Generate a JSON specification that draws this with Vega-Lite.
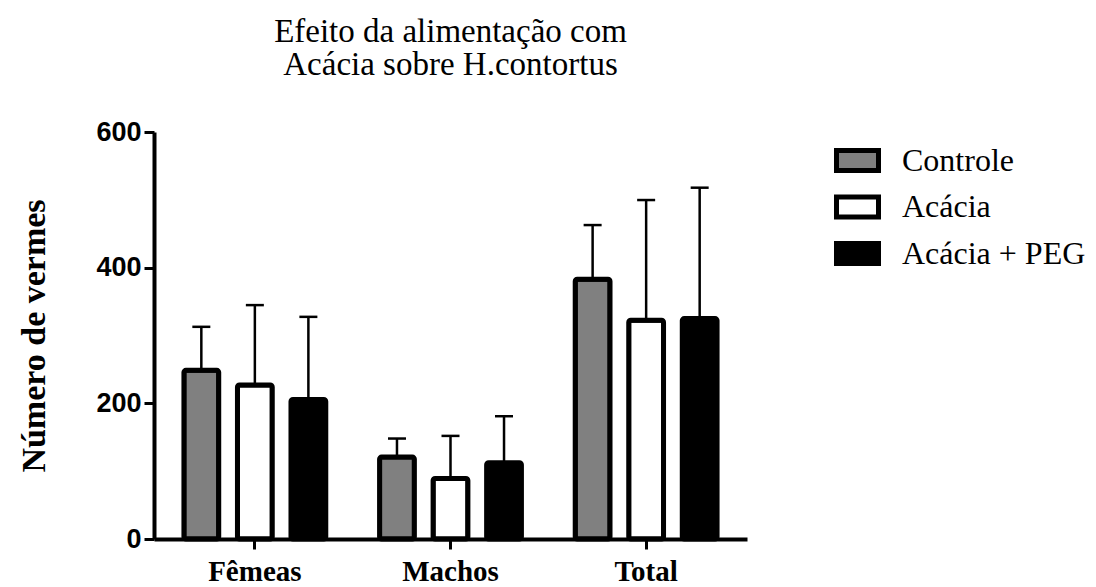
{
  "$schema": "https://vega.github.io/schema/vega-lite/v6.json",
  "width": 593,
  "height": 407,
  "autosize": {"type": "none"},
  "padding": {"left": 154, "top": 132, "right": 349, "bottom": 48},
  "background": "white",
  "title": {
    "text": ["Efeito da alimentação com", "Acácia sobre H.contortus"],
    "font": "Liberation Serif",
    "fontSize": 33,
    "fontWeight": "normal",
    "color": "black",
    "anchor": "middle",
    "lineHeight": 33,
    "offset": 36
  },
  "data": {
    "values": [
      {"grupo": "Fêmeas", "tratamento": "Controle", "media": 248.6, "superior": 312.8},
      {"grupo": "Fêmeas", "tratamento": "Acácia", "media": 227.0, "superior": 344.8},
      {"grupo": "Fêmeas", "tratamento": "Acácia + PEG", "media": 205.8, "superior": 327.5},
      {"grupo": "Machos", "tratamento": "Controle", "media": 120.8, "superior": 148.1},
      {"grupo": "Machos", "tratamento": "Acácia", "media": 89.3, "superior": 152.0},
      {"grupo": "Machos", "tratamento": "Acácia + PEG", "media": 112.4, "superior": 181.0},
      {"grupo": "Total", "tratamento": "Controle", "media": 382.9, "superior": 462.8},
      {"grupo": "Total", "tratamento": "Acácia", "media": 322.4, "superior": 499.7},
      {"grupo": "Total", "tratamento": "Acácia + PEG", "media": 324.9, "superior": 517.9}
    ]
  },
  "encoding": {
    "x": {
      "field": "grupo",
      "type": "nominal",
      "sort": ["Fêmeas", "Machos", "Total"],
      "scale": {"paddingInner": 0.275, "paddingOuter": 0.153},
      "axis": {
        "title": null,
        "labelAngle": 0,
        "labelFont": "Liberation Serif",
        "labelFontSize": 29,
        "labelFontWeight": "bold",
        "labelColor": "black",
        "labelPadding": 8,
        "tickSize": 10,
        "tickWidth": 3,
        "tickColor": "black",
        "domainColor": "black",
        "domainWidth": 4,
        "grid": false
      }
    },
    "xOffset": {
      "field": "tratamento",
      "type": "nominal",
      "sort": ["Controle", "Acácia", "Acácia + PEG"],
      "scale": {"paddingInner": 0.35, "paddingOuter": 0}
    }
  },
  "layer": [
    {
      "mark": {"type": "rule", "color": "black", "strokeWidth": 2.5},
      "encoding": {
        "y": {"field": "media", "type": "quantitative"},
        "y2": {"field": "superior"}
      }
    },
    {
      "mark": {"type": "tick", "color": "black", "thickness": 2.5, "size": 18, "opacity": 1},
      "encoding": {
        "y": {"field": "superior", "type": "quantitative"}
      }
    },
    {
      "mark": {"type": "bar", "stroke": "black", "strokeWidth": 5, "cornerRadius": 2, "opacity": 1},
      "encoding": {
        "y": {
          "field": "media",
          "type": "quantitative",
          "scale": {"domain": [0, 600], "nice": false, "zero": true},
          "axis": {
            "title": "Número de vermes",
            "titleFont": "Liberation Serif",
            "titleFontSize": 34,
            "titleFontWeight": "bold",
            "titleColor": "black",
            "titlePadding": 44,
            "values": [0, 200, 400, 600],
            "labelFont": "Liberation Sans",
            "labelFontSize": 27,
            "labelFontWeight": "bold",
            "labelColor": "black",
            "labelPadding": 3,
            "tickSize": 10,
            "tickWidth": 3,
            "tickColor": "black",
            "domainColor": "black",
            "domainWidth": 4,
            "grid": false
          }
        },
        "fill": {
          "field": "tratamento",
          "type": "nominal",
          "sort": ["Controle", "Acácia", "Acácia + PEG"],
          "scale": {
            "domain": ["Controle", "Acácia", "Acácia + PEG"],
            "range": ["#808080", "#ffffff", "#000000"]
          },
          "legend": {
            "title": null,
            "orient": "none",
            "legendX": 680,
            "legendY": 5,
            "symbolType": "M-1,-0.48H1V0.48H-1Z",
            "symbolSize": 1764,
            "symbolStrokeColor": "black",
            "symbolStrokeWidth": 5,
            "symbolOpacity": 1,
            "labelFont": "Liberation Serif",
            "labelFontSize": 32,
            "labelColor": "black",
            "labelOffset": 21,
            "labelLimit": 400,
            "rowPadding": 2.5,
            "padding": 0
          }
        }
      }
    }
  ],
  "config": {
    "view": {"stroke": null}
  }
}
